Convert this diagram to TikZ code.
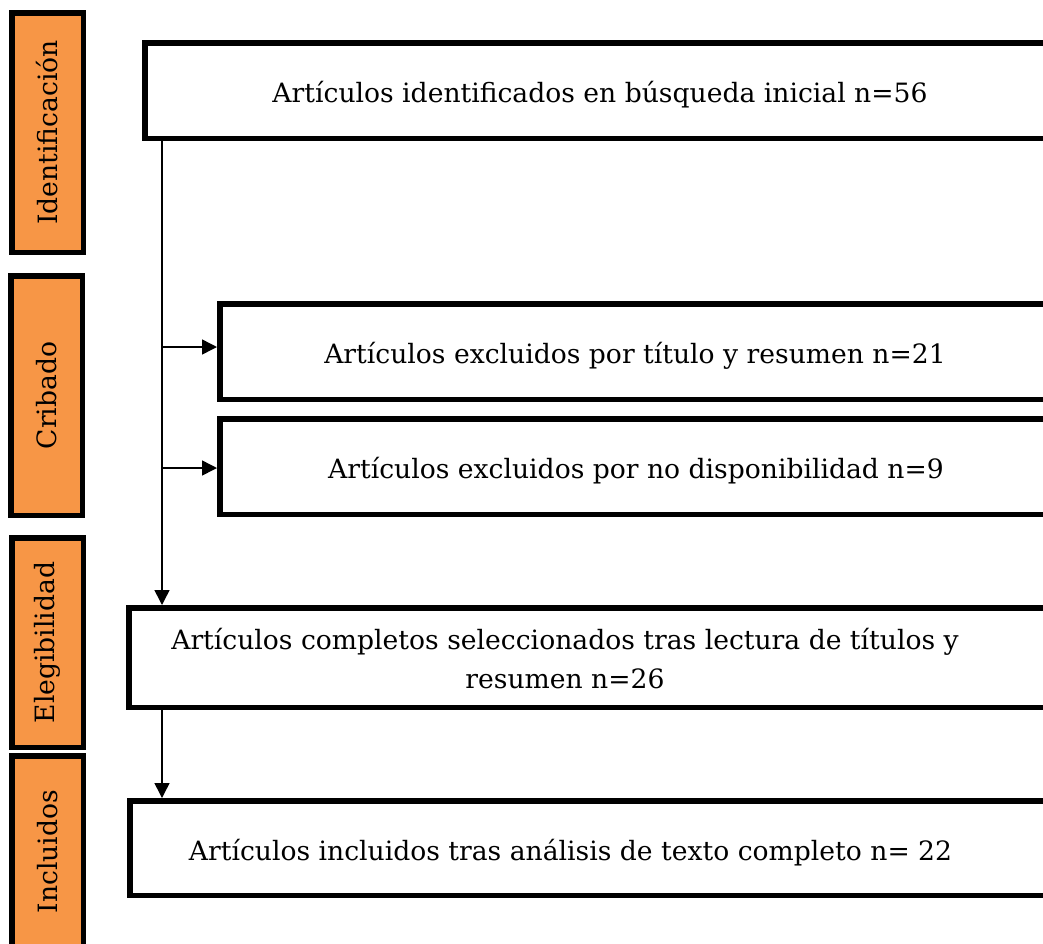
\documentclass[tikz,border=0pt]{standalone}
\usepackage{fontspec}
\setmainfont{DejaVu Serif}
\usepackage{graphicx}
\usetikzlibrary{arrows.meta}
\definecolor{phase}{HTML}{F79646}
\tikzset{
  box/.style={draw=black, line width=5.5pt, fill=white, inner sep=0pt, anchor=north west,
    font=\fontsize{26.6}{38}\selectfont, align=center},
  oneline/.style={text height=30pt, text depth=6pt},
  phasebox/.style={draw=black, line width=5.5pt, fill=phase, inner sep=0pt, anchor=north west,
    font=\fontsize{26.6}{30}\selectfont},
  conn/.style={line width=1.5pt, -{Triangle[length=15pt,width=15pt]}}
}
\begin{document}
\begin{tikzpicture}[x=1pt,y=-1pt]
\useasboundingbox (0,0) rectangle (1043,943);
\clip (0,0) rectangle (1043,943);
% phase labels
\node[phasebox, minimum width=71.5pt, minimum height=239.5pt] (pid) at (9,10) {\rotatebox{90}{Identificación}};
\node[phasebox, minimum width=71.5pt, minimum height=239.5pt] (pcr) at (8,273) {\rotatebox{90}{Cribado}};
\node[phasebox, minimum width=71.5pt, minimum height=209.5pt] (pel) at (9,535) {\rotatebox{90}{Elegibilidad}};
\node[phasebox, minimum width=71.5pt, minimum height=192pt] (pin) at (9,753) {\rotatebox{90}{Incluidos}};
% boxes
\node[box, oneline, minimum width=910.5pt, minimum height=95.5pt] (b1) at (142,40) {Artículos identificados en búsqueda inicial n=56};
\node[box, oneline, minimum width=830.5pt, minimum height=95.5pt] (b2) at (217,301) {Artículos excluidos por título y resumen n=21};
\node[box, oneline, minimum width=832.5pt, minimum height=95.5pt] (b3) at (217,416) {Artículos excluidos por no disponibilidad n=9};
\node[box, text height=66pt, text depth=5pt, minimum width=970.5pt, minimum height=99.5pt] (b4) at (126,605) {\hspace*{-49pt}\begin{tabular}[b]{@{}c@{}}Artículos completos seleccionados tras lectura de títulos y\\[1pt] resumen n=26\end{tabular}\hspace*{49pt}};
\node[box, oneline, minimum width=969.5pt, minimum height=94.5pt] (b5) at (127,798) {\hspace*{-44pt}Artículos incluidos tras análisis de texto completo n= 22\hspace*{44pt}};
% connectors
\coordinate (tx) at (162,0);
\coordinate (j1) at (162,347);
\coordinate (j2) at (162,468);
\draw[conn] (b1.south -| tx) -- (b4.north -| tx);
\draw[conn] (j1) -- (j1 -| b2.west);
\draw[conn] (j2) -- (j2 -| b3.west);
\draw[conn] (b4.south -| tx) -- (b5.north -| tx);
\end{tikzpicture}
\end{document}
